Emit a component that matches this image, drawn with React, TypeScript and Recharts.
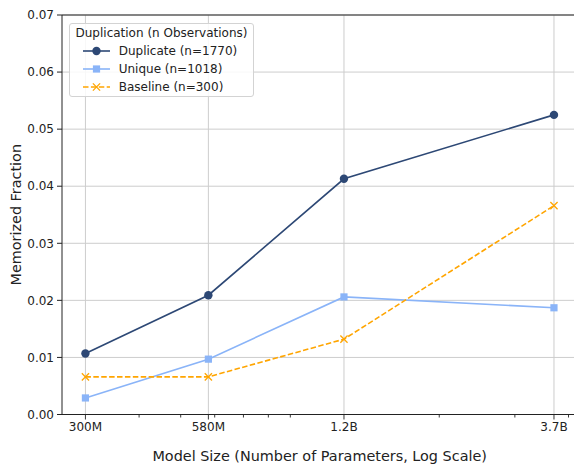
import { LineChart, Line, XAxis, YAxis, CartesianGrid, ReferenceLine } from "recharts";

const modelSizes = [3e8, 5.8e8, 1.2e9, 3.7e9];
const sizeLabels = ["300M", "580M", "1.2B", "3.7B"];
const minorSizes = [4e8, 5e8, 6e8, 7e8, 8e8, 9e8, 2e9, 3e9, 4e9];
const duplicateFrac = [0.0107, 0.0209, 0.0413, 0.0525];
const uniqueFrac = [0.0029, 0.0097, 0.0206, 0.0187];
const baselineFrac = [0.0066, 0.0066, 0.0132, 0.0366];
const yTicks = [0, 0.01, 0.02, 0.03, 0.04, 0.05, 0.06, 0.07];

const series = [
  { key: "duplicate", name: "Duplicate (n=1770)", color: "#2d4875", marker: "circle", dash: undefined },
  { key: "unique", name: "Unique (n=1018)", color: "#8ab4f8", marker: "square", dash: undefined },
  { key: "baseline", name: "Baseline (n=300)", color: "#ffa500", marker: "x", dash: "5.5 2.4" },
];

const data = modelSizes.map((size, i) => ({
  size,
  duplicate: duplicateFrac[i],
  unique: uniqueFrac[i],
  baseline: baselineFrac[i],
}));

// matplotlib-style 5% margin on a log axis
const span = modelSizes[modelSizes.length - 1] / modelSizes[0];
const xDomain = [modelSizes[0] / Math.pow(span, 0.05), modelSizes[modelSizes.length - 1] * Math.pow(span, 0.05)];

const AXIS = "#222";
const FONT = "'DejaVu Sans', sans-serif";

function Marker({ type, x, y, color }: { type: string; x: number; y: number; color: string }) {
  if (type === "circle") return <circle cx={x} cy={y} r={4.2} fill={color} />;
  if (type === "square") return <rect x={x - 3.6} y={y - 3.6} width={7.2} height={7.2} fill={color} />;
  return (
    <g stroke={color} strokeWidth={1.3}>
      <line x1={x - 3.6} y1={y - 3.6} x2={x + 3.6} y2={y + 3.6} />
      <line x1={x - 3.6} y1={y + 3.6} x2={x + 3.6} y2={y - 3.6} />
    </g>
  );
}

const XTick = (props: any) => {
  const { x, y, payload } = props;
  const i = modelSizes.indexOf(payload.value);
  const base = y - 8;
  return (
    <g>
      <line x1={x} x2={x} y1={base} y2={base + (i >= 0 ? 5 : 3)} stroke={AXIS} strokeWidth={0.9} />
      {i >= 0 && (
        <text x={x} y={y} dy="0.71em" textAnchor="middle" fontSize={12} fill={AXIS}>
          {sizeLabels[i]}
        </text>
      )}
    </g>
  );
};

export default function App() {
  return (
    <div
      style={{
        position: "absolute",
        left: 0,
        top: 0,
        width: 574,
        height: 466,
        overflow: "hidden",
        background: "#fff",
        fontFamily: FONT,
      }}
    >
      <LineChart width={600} height={466} data={data} margin={{ top: 15, right: 22.6, left: 0, bottom: 0 }}>
        <CartesianGrid stroke="#cdcdcd" strokeWidth={1} verticalValues={modelSizes} horizontalValues={yTicks} />
        <XAxis
          dataKey="size"
          type="number"
          scale="log"
          domain={xDomain}
          allowDataOverflow
          ticks={[...modelSizes, ...minorSizes].sort((a, b) => a - b)}
          interval={0}
          tickSize={5}
          tickMargin={3}
          tickLine={false}
          tick={<XTick />}
          axisLine={{ stroke: AXIS }}
          height={51.5}
          label={(p: any) => {
            const vb = p.viewBox;
            return (
              <text x={vb.x + vb.width / 2} y={vb.y + 46.5} textAnchor="middle" fontSize={14.4} fill={AXIS}>
                Model Size (Number of Parameters, Log Scale)
              </text>
            );
          }}
        />
        <YAxis
          type="number"
          domain={[0, 0.07]}
          ticks={yTicks}
          interval={0}
          width={62}
          tickSize={5}
          tickMargin={3}
          tickFormatter={(v: number) => v.toFixed(2)}
          tick={{ fontSize: 12, fill: AXIS }}
          tickLine={{ stroke: AXIS }}
          axisLine={{ stroke: AXIS }}
          label={(p: any) => {
            const vb = p.viewBox;
            const cx = vb.x + 16;
            const cy = vb.y + vb.height / 2;
            return (
              <text
                x={cx}
                y={cy}
                transform={`rotate(-90, ${cx}, ${cy})`}
                textAnchor="middle"
                dominantBaseline="central"
                fontSize={14.4}
                fill={AXIS}
              >
                Memorized Fraction
              </text>
            );
          }}
        />
        <ReferenceLine y={0.07} stroke={AXIS} />
        {series.map((s) => (
          <Line
            key={s.key}
            dataKey={s.key}
            stroke={s.color}
            strokeWidth={1.6}
            strokeDasharray={s.dash}
            isAnimationActive={false}
            dot={(p: any) => <Marker key={`${s.key}-${p.index}`} type={s.marker} x={p.cx} y={p.cy} color={s.color} />}
            activeDot={false}
          />
        ))}
      </LineChart>
      <div
        style={{
          position: "absolute",
          left: 69,
          top: 23,
          width: 185,
          height: 74,
          boxSizing: "border-box",
          border: "1px solid #d3d3d3",
          borderRadius: 3,
          background: "rgba(255,255,255,0.85)",
          fontSize: 12,
          color: AXIS,
          lineHeight: "18px",
        }}
      >
        <div style={{ textAlign: "center" }}>Duplication (n Observations)</div>
        {series.map((s) => (
          <div key={s.key} style={{ display: "flex", alignItems: "center", height: 18 }}>
            <svg width={27} height={18} style={{ marginLeft: 12.7, marginRight: 9 }}>
              <line x1={0} x2={27} y1={9} y2={9} stroke={s.color} strokeWidth={1.6} strokeDasharray={s.dash} />
              <Marker type={s.marker} x={13.5} y={9} color={s.color} />
            </svg>
            <span>{s.name}</span>
          </div>
        ))}
      </div>
    </div>
  );
}
